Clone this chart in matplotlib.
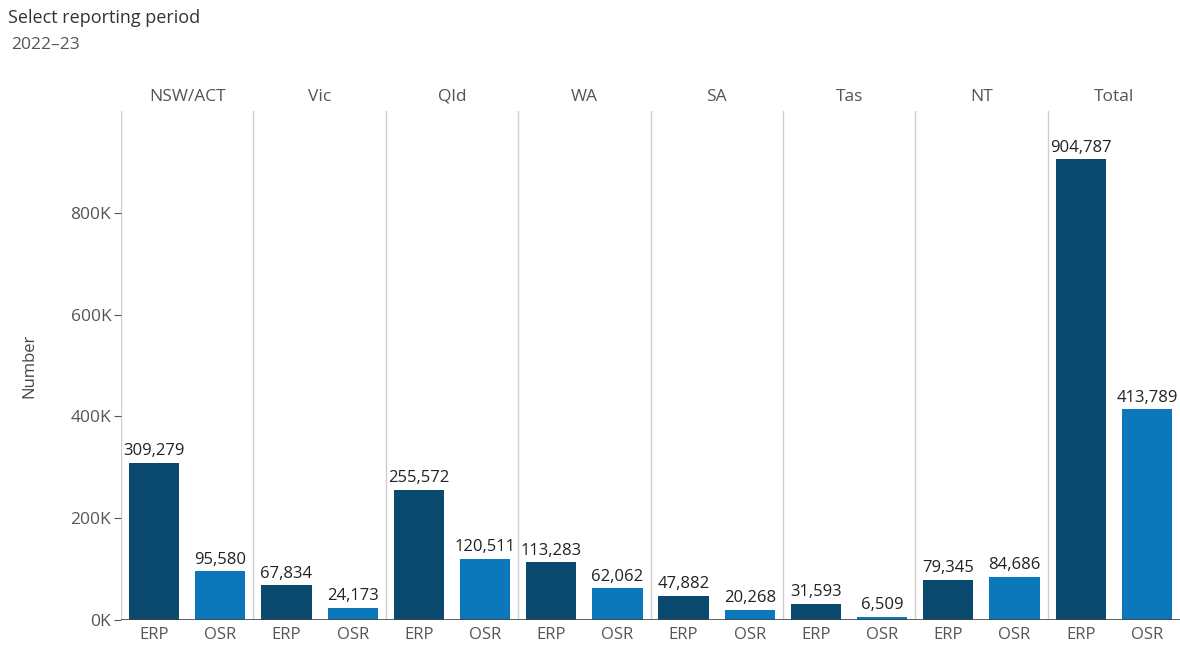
import matplotlib.pyplot as plt
from matplotlib.ticker import FuncFormatter

plt.rcParams['font.family'] = ['Open Sans', 'DejaVu Sans']

regions = ["NSW/ACT", "Vic", "Qld", "WA", "SA", "Tas", "NT", "Total"]
erp = [309279, 67834, 255572, 113283, 47882, 31593, 79345, 904787]
osr = [95580, 24173, 120511, 62062, 20268, 6509, 84686, 413789]
measures = ["ERP", "OSR"]

col_erp = "#0b4a6f"
col_osr = "#0b78bb"

fig = plt.figure(figsize=(11.8, 6.5), dpi=100)
ax = fig.add_axes([121 / 1180, 30 / 650, 1059 / 1180, 509 / 650])

xs_erp = [2 * i for i in range(len(regions))]
xs_osr = [2 * i + 1 for i in range(len(regions))]
w = 0.76
ax.bar(xs_erp, erp, width=w, color=col_erp, zorder=3)
ax.bar(xs_osr, osr, width=w, color=col_osr, zorder=3)

for x, v in zip(xs_erp + xs_osr, erp + osr):
    ax.text(x, v + 7000, f"{v:,}", ha="center", va="bottom", fontsize=12, color="#222222")

for i, r in enumerate(regions):
    ax.axvline(2 * i - 0.5, color="#cfcfcf", lw=1, zorder=1)
    ax.text(2 * i + 0.5, 1.012, r, transform=ax.get_xaxis_transform(), ha="center",
            va="bottom", fontsize=12.5, color="#555555")

ax.axhline(0, color="#444444", lw=1.2, zorder=4)

ax.set_xlim(-0.5, 2 * len(regions) - 0.5)
ax.set_ylim(0, 1000000)
ax.set_xticks(xs_erp + xs_osr)
ax.set_xticklabels(measures[:1] * len(regions) + measures[1:] * len(regions))
ax.set_yticks([0, 200000, 400000, 600000, 800000])
ax.yaxis.set_major_formatter(FuncFormatter(lambda v, p: f"{int(v / 1000)}K"))
ax.tick_params(axis="x", length=0, labelsize=12, labelcolor="#555555", pad=5)
ax.tick_params(axis="y", length=5, color="#555555", labelsize=12.5, labelcolor="#555555", pad=2)
for s in ax.spines.values():
    s.set_visible(False)
ax.set_ylabel("Number", fontsize=12, color="#444444", labelpad=24)

fig.text(8 / 1180, 1 - 18 / 650, "Select reporting period", fontsize=13, color="#333333", va="center")
fig.text(11 / 1180, 1 - 45 / 650, "2022\u201323", fontsize=12.5, color="#555555", va="center")

fig.savefig("out.png", dpi=100)
